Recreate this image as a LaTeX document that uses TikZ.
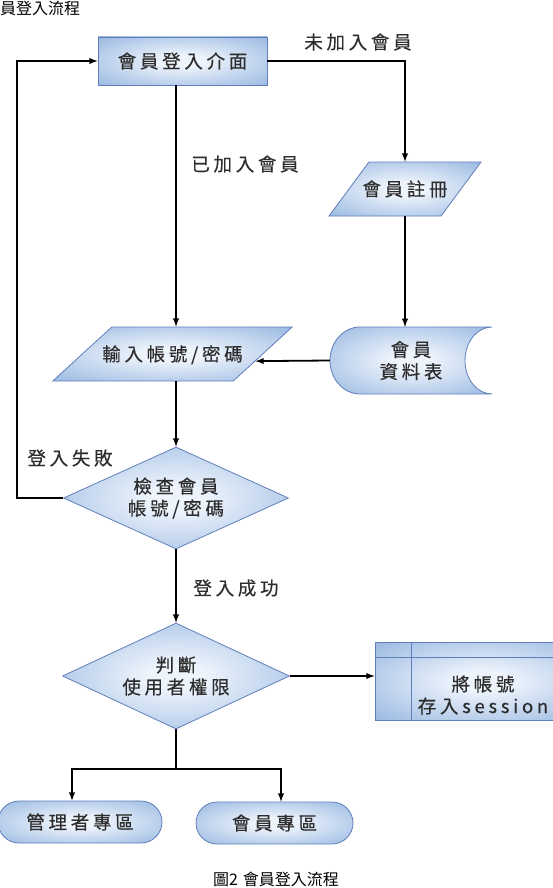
\documentclass[tikz,border=0pt]{standalone}
\usepackage{fontspec}
\setmainfont{Noto Sans CJK TC}
\newfontfamily\hand[LetterSpace=20,FakeBold=0.4]{Noto Sans CJK TC}
\usepackage{tikz}
\usetikzlibrary{shapes.geometric}
\usetikzlibrary{calc}
\usetikzlibrary{arrows}
\usetikzlibrary{positioning}

\definecolor{edgeblue}{RGB}{118,160,214}
\definecolor{coreblue}{RGB}{238,244,252}
\definecolor{rimblue}{RGB}{96,126,186}
\definecolor{inkgray}{RGB}{45,45,45}
\pgfdeclareradialshading{glow}{\pgfpoint{0bp}{0bp}}{color(0bp)=(coreblue); color(6bp)=(coreblue); color(48bp)=(edgeblue); color(50bp)=(edgeblue)}

\begin{document}
\begin{tikzpicture}[x=1pt, y=-1pt,
        box/.style={shade, shading=glow, draw=rimblue, line width=.8pt, align=center, inner sep=0pt, text=inkgray, font=\hand\fontsize{18.5}{22}\selectfont},
        slab/.style={trapezium, trapezium stretches body, text height=15pt, text depth=1pt, inner ysep=19pt},
        lbl/.style={align=center, inner sep=0pt, text=inkgray, font=\hand\fontsize{18.5}{22}\selectfont},
        link/.style={line width=1.8pt}
    ]
        \useasboundingbox (0,0) rectangle (553,888);

        \node (head) [anchor=west, inner sep=0pt, font=\fontsize{16}{16}\selectfont] at (0,8) {員登入流程};

        \node (box) [box, minimum width=169pt, minimum height=48pt] at (182.5,61) {會員登入介面};
        \node (reg) [box, slab, inner xsep=-8.5pt, trapezium left angle=53.5, trapezium right angle=126.5, minimum width=152pt, minimum height=54pt] at (405,189) {會員註冊};
        \node (inp) [box, slab, inner xsep=-9.5pt, trapezium left angle=42.5, trapezium right angle=137.5, minimum width=239pt, minimum height=54pt] at (172.5,354) {輸入帳號/密碼};

        % stored data
        \shade [shading=glow, draw=rimblue, line width=.8pt] (360,327) .. controls (343.4,327) and (330,342) .. (330,360.5) .. controls (330,379) and (343.4,394) .. (360,394) -- (492,394) .. controls (477.1,394) and (465,379) .. (465,360.5) .. controls (465,342) and (477.1,327) .. (492,327) -- cycle;
        \node (db) [lbl, minimum width=162pt, minimum height=67pt] at (411,360.5) {會員\\資料表};

        \node (chk) [box, diamond, aspect=2.2, minimum width=225pt, minimum height=102pt] at (176,498) {檢查會員\\帳號/密碼};
        \node (dec) [box, diamond, aspect=2.2, minimum width=227pt, minimum height=106pt] at (176,676) {判斷\\使用者權限};

        \node (proc) [box, minimum width=216pt, minimum height=78pt] at (483,681) {};
        \node (proctxt) [lbl] at ([yshift=-14pt]proc.center) {將帳號\\存入session};
        \draw [rimblue, line width=.8pt] ([xshift=37pt]proc.north west) -- ([xshift=37pt]proc.south west);
        \draw [rimblue, line width=.8pt] ([yshift=-16pt]proc.north west) -- ([yshift=-16pt]proc.north east);

        \node (adm) [box, rounded corners=21pt, minimum width=164pt, minimum height=42pt] at (80,822) {管理者專區};
        \node (mem) [box, rounded corners=21pt, minimum width=157pt, minimum height=42pt] at (274.5,823) {會員專區};

        \node (nojoin) [lbl] at (358,42) {未加入會員};
        \node (joined) [lbl] at (245,164) {已加入會員};
        \node (fail) [lbl] at (70,458) {登入失敗};
        \node (pass) [lbl] at (236,588) {登入成功};

        \node (cap) [inner sep=0pt, font=\fontsize{16}{16}\selectfont] at (276,879) {圖2\hspace{5pt}會員登入流程};

        \coordinate (loop) at (17,498);
        \coordinate (split) at (176,769);

        \draw [-latex, link] (box.east) -| (reg.north);
        \draw [-latex, link] (reg.south) -- (reg.south |- db.north);
        \draw [-latex, link] (db.west) -- ($(inp.top right corner)!.63!(inp.bottom right corner)$);
        \draw [-latex, link] (box.south -| chk) -- (inp.north -| chk);
        \draw [-latex, link] (inp.south -| chk) -- (chk.north);
        \draw [-latex, link] (chk.west) -- (loop) |- (box.west);
        \draw [-latex, link] (chk.south) -- (dec.north);
        \draw [-latex, link] (dec.east) -- (dec.east -| proc.west);
        \draw [link] (dec.south) -- (split);
        \draw [-latex, link] (split) -| ([xshift=-8pt]adm.north);
        \draw [-latex, link] (split) -| ([xshift=6.5pt]mem.north);
    \end{tikzpicture}
\end{document}
